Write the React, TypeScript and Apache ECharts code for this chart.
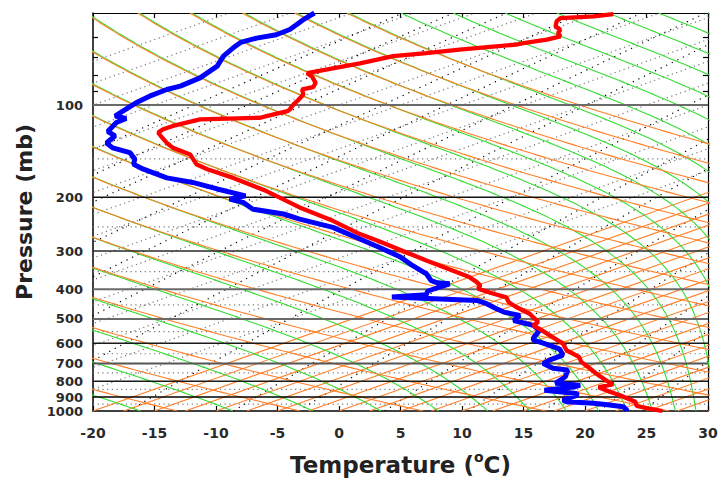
import React, { useEffect, useRef } from "react";
import * as echarts from "echarts";

// ---------- sounding data (x = diagram temperature coordinate in °C, p in hPa) ----------
const tempPressure = [1000, 985, 963, 933, 909, 887, 865, 837, 817, 809, 754, 726, 691, 665, 633, 602, 545, 525, 512, 481, 457, 441, 425, 413, 398, 389, 379, 365, 322, 277, 264, 239, 216, 191, 173, 162, 156, 145, 138, 133, 126, 123, 120, 117, 111.4, 110, 108.7, 104.7, 103.3, 99.5, 97.1, 92.3, 88.9, 87.4, 84.6, 80.6, 78.6, 73.1, 71, 69.2, 67.6, 65.9, 63.4, 62.7, 61.1, 59.6, 58.1, 56.7, 55.3, 53.2, 52, 51.3, 50.4];
const tempValues = [26.3, 25.3, 24.2, 24.1, 23.4, 22.8, 22.0, 21.1, 22.3, 22.0, 20.9, 20.4, 19.7, 19.5, 18.5, 18.2, 16.5, 15.8, 16.2, 15.5, 14.4, 13.8, 13.6, 12.5, 11.3, 11.5, 11.2, 10.6, 7.1, 3.1, 1.7, -0.5, -3.2, -5.9, -8.6, -10.7, -11.6, -12.1, -13.5, -14.0, -14.5, -14.7, -14.3, -13.5, -11.3, -6.4, -5.9, -4.2, -4.0, -3.7, -3.4, -2.9, -3.0, -2.1, -1.9, -2.2, -2.6, 1.7, 3.1, 4.4, 7.1, 9.8, 14.4, 15.0, 16.9, 18.0, 17.8, 18.0, 17.6, 17.7, 18.0, 20.7, 22.3];

const dewPressure = [1000, 993, 968, 956, 944, 933, 921, 887, 876, 855, 833, 823, 812, 773, 735, 725, 700, 682, 657, 633, 624, 600, 587, 578, 545, 525, 506, 487, 475, 463, 446, 435, 424, 417, 406, 394, 384, 381, 375, 356, 335, 314, 292, 274, 251, 236, 227, 219, 208, 203, 198, 188, 179, 173, 162, 156, 150, 143, 138, 133, 126, 122, 114, 110.5, 108.6, 106, 98.3, 93.5, 88.9, 86.7, 81.5, 74.6, 69.2, 65, 62.4, 60.4, 58.9, 56.6, 52.6, 50];
const dewValues = [23.4, 23.4, 23.1, 22.0, 20.7, 18.5, 18.2, 19.4, 19.3, 16.7, 19.2, 19.6, 17.6, 18.4, 18.6, 17.4, 16.6, 17.1, 18.2, 18.0, 17.8, 16.6, 15.8, 15.8, 16.3, 15.8, 14.2, 14.7, 13.4, 12.8, 12.0, 11.2, 4.3, 7.1, 7.2, 8.1, 9.0, 8.0, 7.5, 7.1, 6.0, 5.0, 3.3, 1.7, -0.5, -3.2, -4.5, -7.0, -7.8, -8.9, -7.6, -9.9, -11.9, -14.0, -15.9, -16.7, -16.6, -17.0, -18.4, -18.9, -18.2, -18.8, -18.1, -17.3, -18.2, -17.8, -16.5, -15.4, -14.0, -12.9, -11.3, -9.9, -9.4, -8.6, -8.0, -6.7, -5.1, -4.0, -2.9, -2.0];

// ---------- axes ----------
const xTickValues = [-20, -15, -10, -5, 0, 5, 10, 15, 20, 25, 30];
const pressureLabels = [100, 200, 300, 400, 500, 600, 700, 800, 900, 1000];
const pressureMinorTicks = [60, 70, 80, 90];
const dottedIsobars = [150, 250, 350, 450, 550, 650, 750, 850, 950];

// ---------- thermodynamic background (diagram definition) ----------
const SKEW = 70; // °C of x shift per decade of pressure
const dryAdiabatThetas = [260, 270, 280, 290, 300, 310, 320, 330, 340, 350, 360, 370, 380, 390, 400, 410, 420, 430]; // K
const moistAdiabatThetaEs = [260, 270, 280, 290, 300, 310, 320, 330, 340, 350, 360, 370, 380, 390, 400, 410, 420, 430, 440, 450, 460, 470, 480, 490, 500]; // K
const solidIsotherms = [-20, -17.5, -15, -12.5, -10, -7.5, -5, -2.5, 0, 2.5, 5, 7.5, 10, 12.5, 15, 17.5, 20, 22.5, 25, 27.5, 30]; // °C
const dottedIsotherms = [-100, -95, -90, -85, -80, -75, -70, -65, -60, -55, -50, -45, -40, -35, -30, -25]; // °C
const mixingRatios = [0.005, 0.01, 0.02, 0.05, 0.1, 0.2, 0.4, 1, 2, 3, 5, 8, 12, 16, 20, 28]; // g/kg

const X_MIN = -20, X_MAX = 30, P_TOP = 50, P_BOTTOM = 1000;
const FONT = "DejaVu Sans";
const ORANGE = "#ff7f27";
const GREEN = "#33dd33";
const BROWN = "#c88c10";

const lg = (p: number) => Math.log10(1000 / p);
const yOf = (p: number) => Math.log10(p);
const xOf = (tC: number, p: number) => tC + SKEW * lg(p);

const pLevels: number[] = [];
for (let i = 0; i <= 260; i++) pLevels.push(P_BOTTOM * Math.pow(P_TOP / P_BOTTOM, i / 260));

const es = (Tk: number) => { const tc = Tk - 273.15; return 6.112 * Math.exp((17.67 * tc) / (tc + 243.5)); };
const thetaESat = (Tk: number, p: number) => {
  const e = es(Tk);
  const r = (622 * e) / (p - e);
  return Tk * Math.pow(1000 / p, 0.2854 * (1 - 0.00028 * r)) * Math.exp((3.376 / Tk - 0.00254) * r * (1 + 0.00081 * r));
};
const moistT = (thetaE: number, p: number) => {
  let hi = 350;
  while (es(hi) > 0.4 * p) hi -= 0.5;
  let lo = 140;
  if (thetaESat(hi, p) < thetaE || thetaESat(lo, p) > thetaE) return NaN;
  for (let k = 0; k < 50; k++) {
    const mid = 0.5 * (lo + hi);
    if (thetaESat(mid, p) < thetaE) lo = mid; else hi = mid;
  }
  return 0.5 * (lo + hi);
};
const dewFromE = (e: number) => { const a = Math.log(e / 6.112); return (243.5 * a) / (17.67 - a); };

const lineSeries = (data: any[], color: string, width: number, type: any = "solid", z = 2) => ({
  type: "line", data, showSymbol: false, symbol: "none", silent: true, clip: true, z,
  lineStyle: { color, width, type }, animation: false, connectNulls: false,
});

function buildOption() {
  const series: any[] = [];
  // dotted isobars
  dottedIsobars.forEach((p) => series.push(lineSeries([[X_MIN, yOf(p)], [X_MAX, yOf(p)]], "#777", 1.2, [1.2, 3.5], 1)));
  // dotted cold isotherms
  dottedIsotherms.forEach((t) => series.push(lineSeries([[xOf(t, P_BOTTOM), yOf(P_BOTTOM)], [xOf(t, P_TOP), yOf(P_TOP)]], "#777", 1.2, [1.2, 3.5], 1)));
  // mixing ratio lines
  mixingRatios.forEach((w) => {
    const d = pLevels.map((p) => [xOf(dewFromE((w * p) / (622 + w)), p), yOf(p)]);
    series.push(lineSeries(d, "#000", 1.2, [1.2, 5], 1));
  });
  // warm isotherms
  solidIsotherms.forEach((t) => series.push(lineSeries([[xOf(t, P_BOTTOM), yOf(P_BOTTOM)], [xOf(t, P_TOP), yOf(P_TOP)]], ORANGE, 1.1, "solid", 2)));
  // moist adiabats
  const moistCurves: Record<number, number[]> = {};
  moistAdiabatThetaEs.forEach((te) => {
    const xs = pLevels.map((p) => { const T = moistT(te, p); return isNaN(T) ? NaN : xOf(T - 273.15, p); });
    moistCurves[te] = xs;
    series.push(lineSeries(pLevels.map((p, i) => (isNaN(xs[i]) ? [null, null] : [xs[i], yOf(p)])), GREEN, 1.1, "solid", 3));
  });
  // dry adiabats (brown where they merge with the moist adiabat of the same value)
  dryAdiabatThetas.forEach((th) => {
    const xs = pLevels.map((p) => xOf(th * Math.pow(p / 1000, 0.2857) - 273.15, p));
    const xm = moistCurves[th];
    let i0 = pLevels.length - 1;
    while (i0 > 0 && xm && !isNaN(xm[i0 - 1]) && Math.abs(xs[i0 - 1] - xm[i0 - 1]) < 0.1) i0--;
    const orange = pLevels.slice(0, i0 + 1).map((p, i) => [xs[i], yOf(p)]);
    const brown = pLevels.slice(i0).map((p, i) => [xs[i0 + i], yOf(p)]);
    series.push(lineSeries(orange, ORANGE, 1.1, "solid", 4));
    if (brown.length > 1) series.push(lineSeries(brown, BROWN, 1.4, "solid", 5));
  });
  // isobars
  const isobarColor: Record<number, string> = { 100: "#6a6a6a", 200: "#111", 300: "#2a2a2a", 400: "#6a6a6a", 500: "#6a6a6a", 600: "#1a1a1a", 700: "#555", 800: "#1a1a1a", 900: "#000" };
  pressureLabels.filter((p) => p < 1000).forEach((p) =>
    series.push(lineSeries([[X_MIN, yOf(p)], [X_MAX, yOf(p)]], isobarColor[p], p === 100 || p === 400 || p === 500 || p === 700 ? 2 : 1.5, "solid", 6)));
  // profiles
  series.push({ ...lineSeries(dewPressure.map((p, i) => [dewValues[i], yOf(p)]), "#0000ff", 5, "solid", 10), name: "Dewpoint" });
  series.push({ ...lineSeries(tempPressure.map((p, i) => [tempValues[i], yOf(p)]), "#ff0000", 4.3, "solid", 11), name: "Temperature" });

  const labelStyle = { fontFamily: FONT, fontWeight: "bold" as const, fontSize: 14, color: "#2a2a2a" };
  return {
    animation: false,
    backgroundColor: "#ffffff",
    grid: { left: 93, right: 12, top: 13, bottom: 67, containLabel: false, outerBoundsMode: "none" },
    xAxis: [
      {
        type: "value", min: X_MIN, max: X_MAX, interval: 5, position: "bottom",
        axisLine: { show: true, onZero: false, lineStyle: { color: "#000", width: 1.5 } },
        axisTick: { show: true, inside: true, length: 5, customValues: xTickValues, lineStyle: { color: "#000", width: 1.2 } },
        axisLabel: { ...labelStyle, margin: 15 },
        splitLine: { show: false },
        name: "Temperature ({sup|o}C)", nameLocation: "middle", nameGap: 39,
        nameTextStyle: {
          fontFamily: FONT, fontWeight: "bold", fontSize: 23, color: "#222",
          rich: { sup: { fontFamily: FONT, fontWeight: "bold", fontSize: 14, color: "#222", verticalAlign: "top", lineHeight: 30 } },
        },
      },
      {
        type: "value", min: X_MIN, max: X_MAX, interval: 5, position: "top",
        axisLine: { show: true, onZero: false, lineStyle: { color: "#000", width: 1 } },
        axisTick: { show: true, inside: true, length: 5, lineStyle: { color: "#000", width: 1.2 } },
        axisLabel: { show: false }, splitLine: { show: false },
      },
    ],
    yAxis: [
      {
        type: "value", inverse: true, min: yOf(P_TOP), max: yOf(P_BOTTOM), position: "left",
        axisLine: { show: true, onZero: false, lineStyle: { color: "#000", width: 1.5 } },
        axisTick: { show: true, inside: true, length: 5, customValues: pressureMinorTicks.map(yOf), lineStyle: { color: "#000", width: 1.2 } },
        axisLabel: { ...labelStyle, fontSize: 13, lineHeight: 12, margin: 10, customValues: pressureLabels.map(yOf), formatter: (v: number) => String(Math.round(Math.pow(10, v))) },
        splitLine: { show: false },
        name: "Pressure (mb)", nameLocation: "middle", nameGap: 56, nameRotate: 90,
        nameTextStyle: { fontFamily: FONT, fontWeight: "bold", fontSize: 22, color: "#222" },
      },
      {
        type: "value", inverse: true, min: yOf(P_TOP), max: yOf(P_BOTTOM), position: "right",
        axisLine: { show: true, onZero: false, lineStyle: { color: "#000", width: 1.2 } },
        axisTick: { show: true, inside: true, length: 5, customValues: pressureMinorTicks.map(yOf), lineStyle: { color: "#000", width: 1.2 } },
        axisLabel: { show: false }, splitLine: { show: false },
      },
    ],
    series,
  };
}

export default function App() {
  const ref = useRef<HTMLDivElement>(null);
  useEffect(() => {
    if (!ref.current) return;
    const chart = echarts.init(ref.current, undefined, { renderer: "svg" });
    chart.setOption(buildOption() as any);
    return () => chart.dispose();
  }, []);
  return <div ref={ref} style={{ position: "fixed", left: 0, top: 0, width: 720, height: 478, background: "#fff" }} />;
}
